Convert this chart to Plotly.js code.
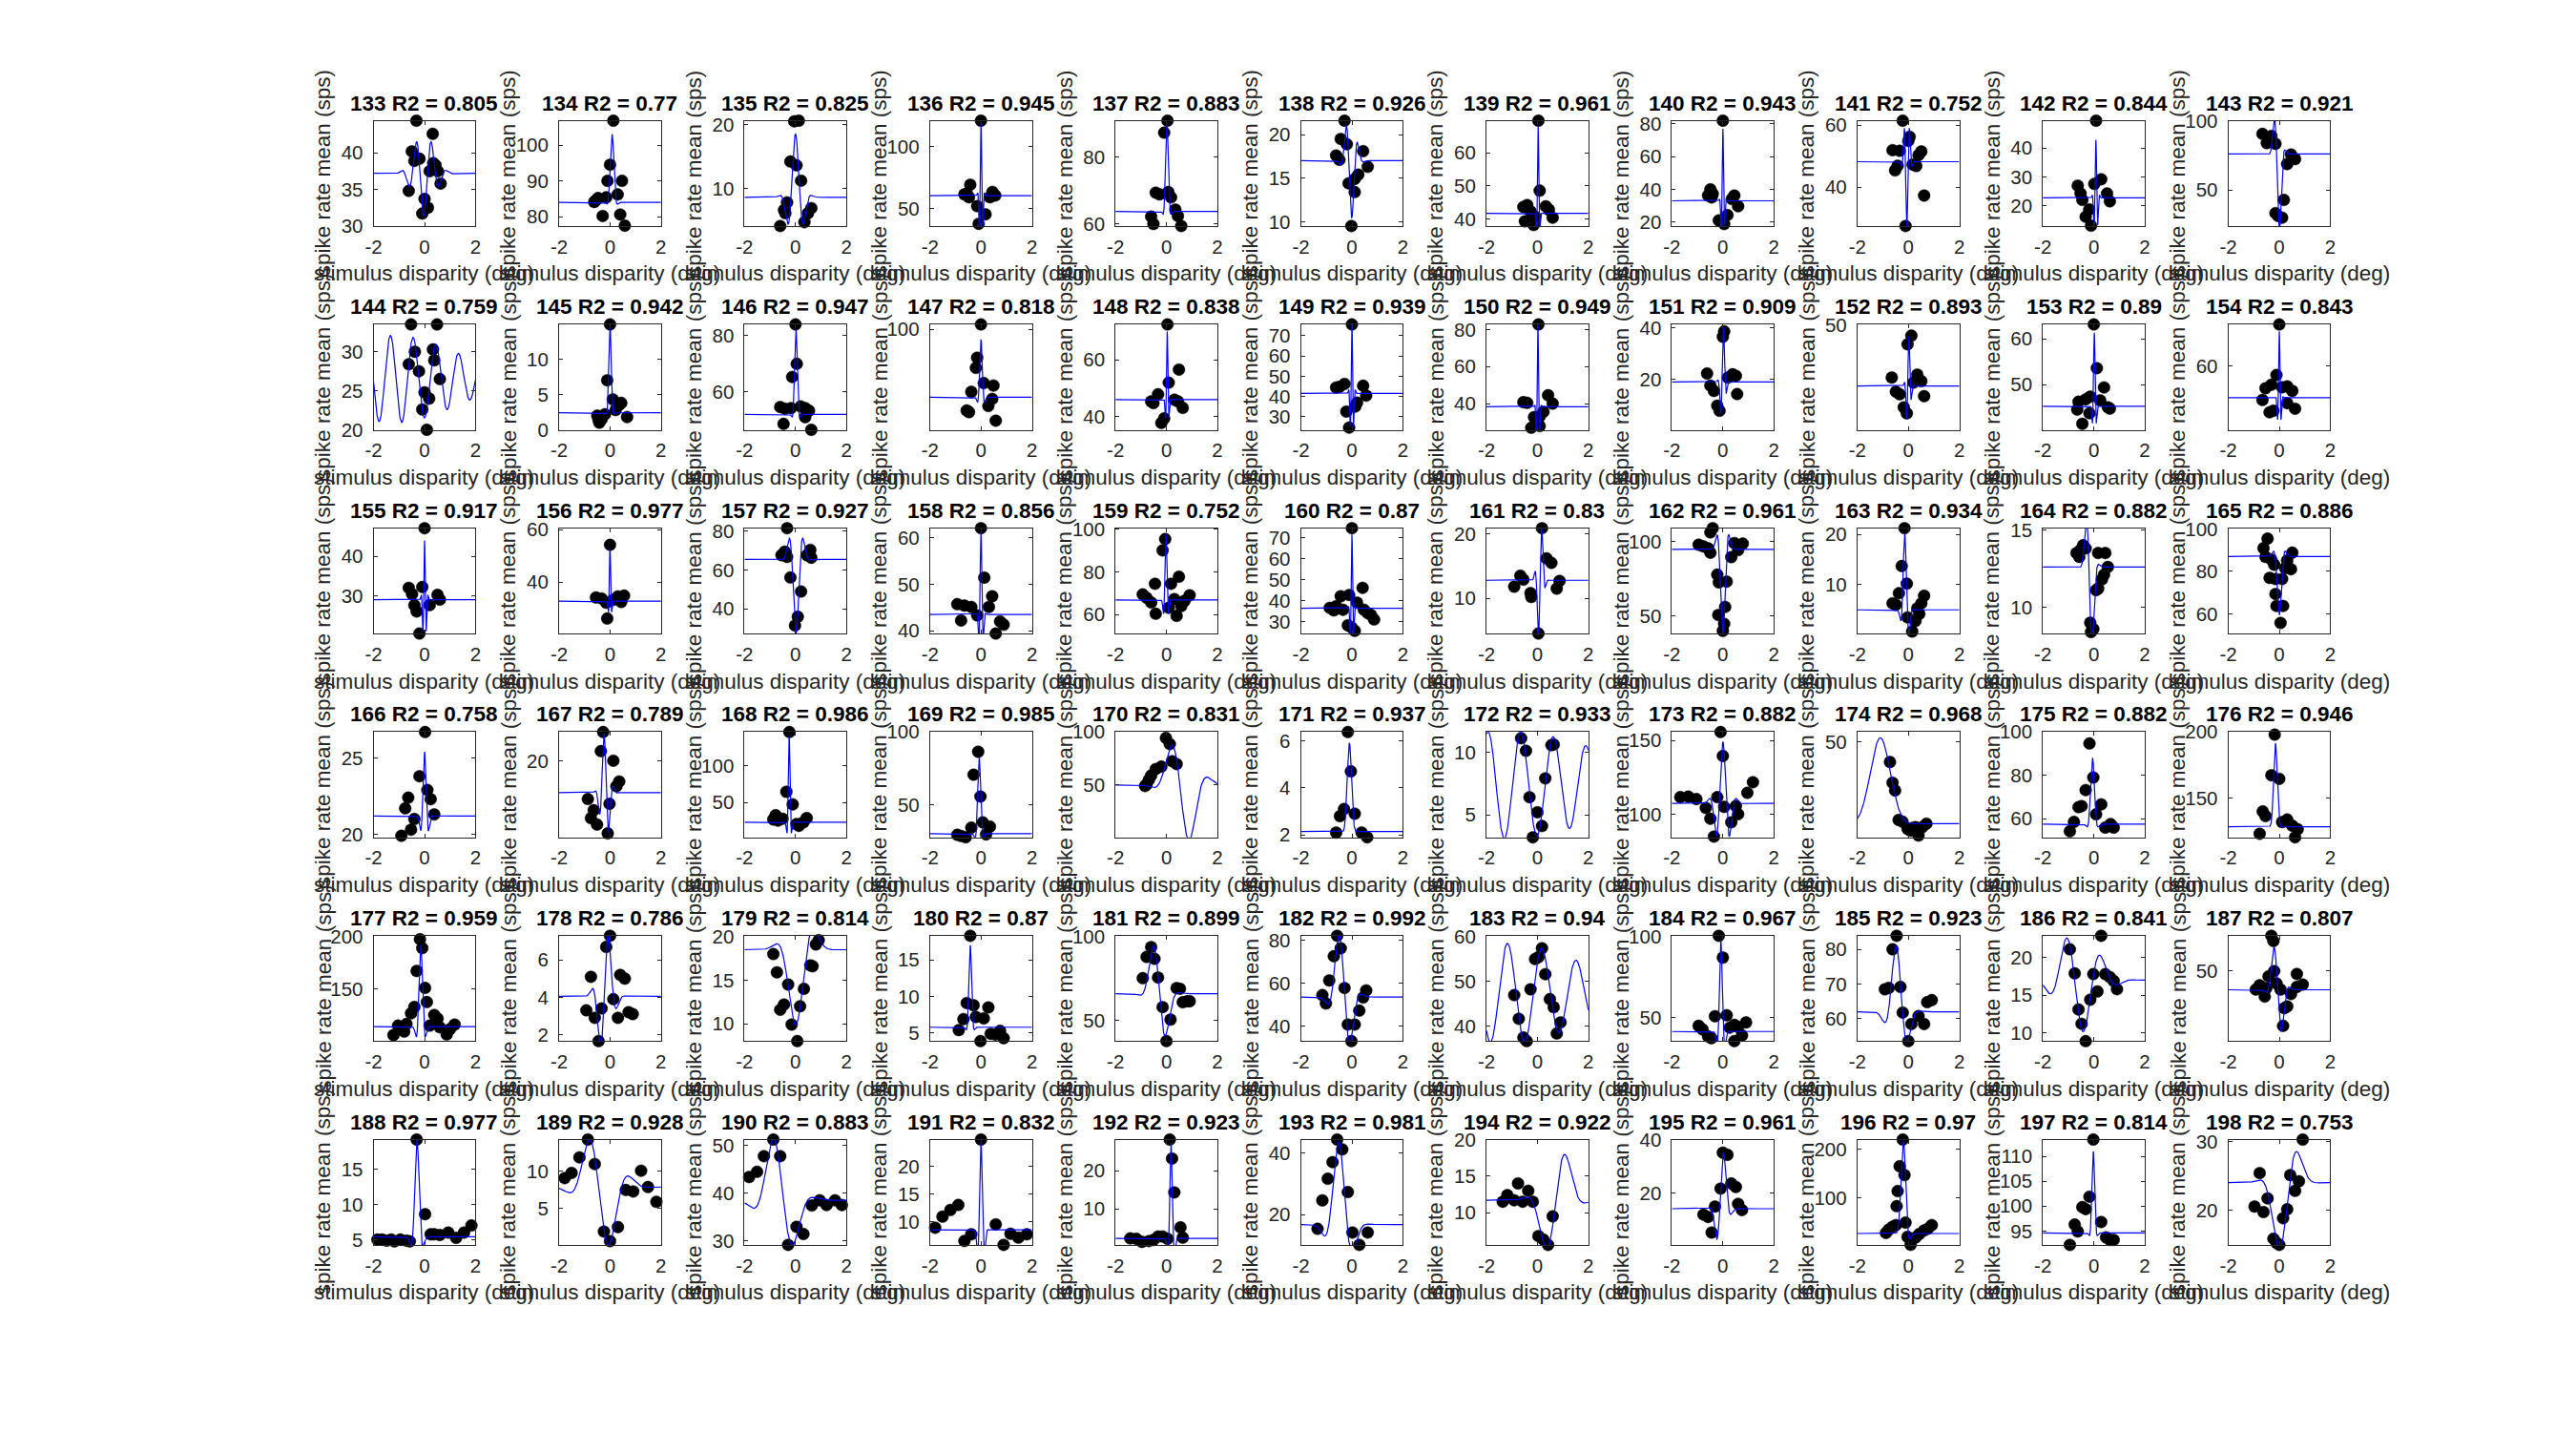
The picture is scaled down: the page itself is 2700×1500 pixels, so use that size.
<!DOCTYPE html>
<html><head><meta charset="utf-8">
<script src="https://cdn.plot.ly/plotly-3.0.1.min.js"></script>
<style>html,body{margin:0;padding:0;background:#fff}</style>
</head><body><div id="chart" style="width:2700px;height:1500px"></div>
<script>
// ---- data ----
const cellIds = [133,134,135,136,137,138,139,140,141,142,143,144,145,146,147,148,149,150,151,152,153,154,155,156,157,158,159,160,161,162,163,164,165,166,167,168,169,170,171,172,173,174,175,176,177,178,179,180,181,182,183,184,185,186,187,188,189,190,191,192,193,194,195,196,197,198];
const r2Values = [0.805,0.77,0.825,0.945,0.883,0.926,0.961,0.943,0.752,0.844,0.921,0.759,0.942,0.947,0.818,0.838,0.939,0.949,0.909,0.893,0.89,0.843,0.917,0.977,0.927,0.856,0.752,0.87,0.83,0.961,0.934,0.882,0.886,0.758,0.789,0.986,0.985,0.831,0.937,0.933,0.882,0.968,0.882,0.946,0.959,0.786,0.814,0.87,0.899,0.992,0.94,0.967,0.923,0.841,0.807,0.977,0.928,0.883,0.832,0.923,0.981,0.922,0.961,0.97,0.814,0.753];
const xTicks = [-2, 0, 2];
const xLabel = 'stimulus disparity (deg)';
const yLabel = 'spike rate mean (sps)';

// stimulus disparity (deg) of each dot, per cell
const dispX = [
[-0.32,0.32,-0.5,-0.4,-0.2,0.34,0.43,0.2,0.52,0.63,-0.62,0.0,0.13,-0.09],
[0.13,0.0,-0.1,0.47,0.3,-0.15,-0.47,-0.62,-0.29,0.4,0.58,-0.55],
[-0.05,0.13,-0.2,0.04,0.22,-0.33,-0.45,-0.4,-0.6,0.62,0.49,0.35],
[0,-0.42,-0.56,-0.65,-0.47,0.45,0.56,0.35,-0.15,0.18,-0.09],
[0.04,-0.09,-0.42,-0.27,0.07,0.18,0.35,0.45,-0.6,-0.51,0.58],
[-0.29,-0.44,-0.2,-0.62,-0.49,0.44,0.62,0.25,0.11,-0.13,0.11,-0.02],
[0.04,0.09,-0.55,-0.4,-0.27,0.33,0.45,0.6,-0.49,-0.24,-0.15,-0.09],
[0,-0.49,-0.58,-0.44,-0.4,0.45,0.35,0.6,-0.16,0.18,0.05],
[-0.22,0.05,0.0,-0.62,-0.34,0.51,0.4,0.31,-0.42,-0.52,0.17,0.62,-0.11],
[0.09,0.29,0.02,-0.63,-0.52,-0.45,0.52,0.63,-0.18,-0.32,-0.11],
[-0.66,-0.31,-0.49,-0.15,0.46,0.62,0.31,0.18,-0.15,-0.05,0.11],
[-0.53,0.49,-0.38,-0.62,0.33,0.38,-0.22,0.6,0.0,0.18,-0.09,0.09],
[0,-0.11,0.11,0.44,0.67,-0.5,-0.42,-0.33,-0.2,0.22,0.35,-0.45],
[0,0.05,-0.13,-0.6,-0.42,-0.18,0.2,0.38,0.53,-0.47,0.38,0.62],
[0,-0.15,-0.2,0.11,0.49,-0.38,0.44,0.29,-0.56,-0.47,0.58],
[0.04,0.49,0.09,-0.33,-0.6,-0.51,0.31,0.45,0.64,-0.09,-0.2],
[0,-0.29,-0.62,-0.49,0.44,0.56,0.2,-0.22,-0.11,0.13],
[0.04,-0.55,-0.4,0.42,0.6,0.24,-0.13,0.09,-0.24,0.09],
[0.05,0.0,-0.62,0.2,0.38,0.51,-0.49,-0.35,0.56,-0.22,-0.13],
[0.12,-0.03,0.35,0.51,0.2,-0.65,-0.49,-0.34,0.62,-0.18,-0.06],
[0,0.12,0.4,-0.6,-0.32,-0.14,0.25,0.55,0.63,-0.65,-0.17,-0.45],
[0,-0.11,-0.31,-0.54,0.31,0.51,0.11,-0.66,0.31,0.62,-0.38,-0.23],
[0,-0.09,-0.62,-0.49,0.51,0.6,-0.4,0.2,-0.31,-0.2],
[0,-0.55,-0.33,-0.15,0.31,0.55,0.44,0.13,-0.11],
[-0.33,-0.55,-0.42,-0.33,0.58,0.45,0.62,-0.2,0.22,0.09,-0.02],
[0,0.13,0.44,-0.93,-0.65,-0.38,-0.15,0.31,-0.78,0.75,0.89,0.58],
[-0.05,-0.15,0.49,-0.45,0.18,-0.93,-0.78,0.91,-0.6,0.31,0.71,0.09,0.58,-0.42,0.4],
[0,0.42,-0.44,-0.11,-0.87,-0.71,-0.62,-0.35,0.2,0.47,0.62,0.75,0.87,-0.16,0.11,-0.02],
[0.18,0.36,0.55,-0.67,-0.55,-0.91,0.87,0.76,-0.27,-0.24,0.04],
[-0.4,-0.49,-0.95,-0.76,-0.58,-0.49,0.45,0.78,0.6,0.33,-0.22,-0.16,0.15,0.09,-0.18,0.05,0.0],
[-0.15,-0.26,-0.06,-0.37,-0.62,-0.49,0.62,0.51,0.35,0.43,-0.03,0.28,0.15],
[-0.42,-0.52,-0.68,-0.32,-0.57,0.17,0.45,0.55,0.4,0.32,0.17,0.09,-0.14,-0.02,-0.11],
[-0.46,-0.62,-0.54,-0.31,-0.2,0.51,0.31,0.23,0.46,-0.38,-0.15,0.11,-0.15,-0.11,0.15,0.05],
[0.02,-0.2,0.11,-0.64,-0.76,0.24,0.38,-0.4,-0.53,-0.91],
[-0.27,-0.36,0.13,0.36,0.25,-0.87,-0.64,-0.75,-0.51,-0.02,-0.09],
[-0.24,-0.36,-0.11,-0.78,-0.87,-0.69,-0.51,0.13,0.31,0.44,0.04],
[-0.11,-0.29,-0.02,0.07,0.35,-0.38,0.2,-0.93,-0.78,-0.6],
[-0.02,0.13,0.22,0.4,-0.2,-0.42,-0.6,-0.69,-0.84,-0.78],
[-0.16,-0.04,-0.31,-0.47,0.11,-0.62,0.38,0.6],
[-0.64,-0.45,0.64,0.55,0.31,-0.31,0.0,0.18,-0.18],
[-0.09,0.0,1.18,0.96,-0.22,-1.67,-1.36,-1.04,-0.67,0.05,0.51,0.6,-0.49,0.33,-0.35],
[-0.72,-0.62,-0.52,-0.38,-0.23,-0.03,0.09,0.28,0.4,0.55,0.71,0.15],
[-0.17,-0.02,-0.32,0.29,-0.6,-0.48,0.09,-0.78,0.45,0.66,0.78,-0.94],
[-0.18,-0.31,0,-0.65,-0.54,0.11,0.31,0.51,0.72,-0.77,0.62],
[-0.18,-0.09,-0.31,0.02,0.09,-0.4,-0.53,0.38,0.51,-0.71,0.2,0.6,-1.04,-0.8,1.18,1.0,0.87,-1.22],
[0,-0.15,-0.75,0.4,0.58,0.13,-0.93,-0.33,-0.6,0.31,0.73,0.89,-0.45],
[0.91,0.8,-0.87,-0.73,-0.29,0.58,0.67,0.33,0.18,-0.45,-0.6,-0.15,0.07],
[-0.42,-0.56,-0.29,0.29,-0.69,-0.2,0.11,-0.87,0.38,0.56,0.75,0.89,-0.02],
[-0.6,-0.78,-0.47,-0.93,-0.33,0.4,0.53,-0.15,0.16,0.64,0.82,0.91,0.0],
[-0.58,-0.44,-0.71,-0.89,-1.16,-1.02,-0.29,0.56,0.44,0.29,-0.16,0.11,-0.02],
[0.18,-0.09,0.04,0.31,-0.91,-0.27,0.49,0.64,-0.73,0.91,0.76,-0.55,-0.42],
[-0.16,0,-0.31,0.15,-0.95,-0.8,-0.58,-0.45,0.45,0.6,0.91,0.27,0.75,0.45],
[-0.46,-0.62,-0.92,-0.77,-0.31,-0.22,0.12,0.4,0.62,0.74,0.92,0],
[0.29,-0.94,-0.75,0.45,0.63,0.78,-0.02,0.91,0.14,-0.14,-0.6,-0.48,-0.32],
[-0.31,-0.23,-0.2,-0.42,0.69,-0.77,-0.11,0.92,0.69,-0.92,-0.51,0.46,0.05,-0.57,0.31,0.2,0.15],
[-0.31,0.02,-1.85,-1.67,-1.49,-1.31,-1.18,-0.95,-0.71,-0.58,0.24,0.38,0.6,0.93,1.24,1.55,1.84],
[-0.87,-1.2,-0.6,-1.51,-1.78,1.22,0.62,0.91,1.49,1.82,-0.24,0.31,0.0],
[-0.87,-0.6,-1.24,-1.51,-1.82,0.04,0.31,-0.29,0.64,0.95,1.22,1.55,1.82],
[0,-0.89,-1.2,-1.51,-1.8,0.58,-0.65,-0.38,0.89,1.16,1.47,1.8],
[0.13,0.22,0.31,0.55,0.64,-1.42,-1.18,-0.96,-0.69,-0.51,-0.33,-0.15,0.04],
[-0.58,-0.38,-0.76,-0.95,-1.16,-0.16,-1.35,0.02,0.29,0.62],
[-0.76,-1.18,-1.36,-0.91,-0.58,-0.36,-0.18,0.04,0.24,0.42,0.6],
[0,0.18,0.33,-0.09,0.51,0.6,0.75,-0.31,-0.76,-0.58,-0.44],
[-0.22,-0.34,-0.15,-0.42,-0.46,-0.11,-0.49,-0.62,-0.77,-0.88,0.92,0.77,0.62,0.43,0.28,-0.03,0.09],
[-0.02,-0.17,-0.45,-0.32,-0.75,-0.63,0.29,0.48,0.63,0.78,-0.94],
[0.92,-0.77,0.43,0.77,0.62,-0.46,-0.97,-0.62,0.31,0.15,-0.23,-0.11,0.0]
];

// spike rate mean (sps) of each dot, per cell
const rateY = [
[44.4,42.6,40.2,38.9,39.2,38.6,38.3,37.5,37.5,35.8,34.8,33.7,32.5,31.7],
[106.8,94.5,90,90,86.2,85.4,85.2,84.1,80.2,80.6,77.5,84.6],
[20.5,20.6,14.2,13.6,11.2,7.8,6.6,6.1,4.1,6.9,6.1,4.7],
[121,69.3,62.1,61.5,59.2,63.5,60.6,59.2,52,45.4,37.7],
[91,87.4,69.4,68.9,69.6,68,64.3,62.4,62.2,60,59.4],
[21.6,19.5,18.9,17.6,17.1,18.1,16.3,15.4,14.9,14.4,13.4,9.5],
[69.6,48.6,43.7,44.3,42.4,43.9,42.9,40.5,39.4,39.2,38.3,40.8],
[82,40,36.2,35.1,37.3,36.2,34.1,29.7,21,24.3,18.8],
[61.4,56.2,54.9,51.9,51.7,51.5,50.3,46.8,46.9,45.4,47.3,37.3,27.5],
[49.4,29.2,27.6,27,24.3,22.1,24.3,21.6,18.8,16.3,13.2],
[90.5,89,83.8,83.3,75.6,72.3,68.7,42.8,33.3,31.3,30],
[33.5,33.5,30,28.4,30.3,28.9,27.5,26.5,24.8,24.0,22.6,20],
[14.9,7.0,4.3,3.8,1.8,2.0,1.0,1.5,2.2,2.8,3.5,1.4],
[84,70,65.3,54.6,54,54.2,54.8,54.2,53.3,48.6,51,46.5],
[102.4,86,81,73.5,72.3,69.2,65.7,62.2,60,59.2,55],
[72.5,56.6,52,47.9,45.4,44.8,46,45.4,43.1,39.4,37.8],
[75.6,46.2,44.4,44.7,45.3,40.4,36.9,32.5,24.6,35],
[82.7,40.8,40.4,44.5,40,35.6,32.7,33.1,27,27.9],
[38.7,36.6,22.3,20.7,22,21.4,17.6,15.5,14.3,9.8,7.8],
[45,40.9,26.6,23.5,22.8,25.2,18.5,17.3,16.4,11.1,8.3],
[63.1,53.6,49.4,46.3,46.8,47.4,46.6,45.1,44.8,44.6,43.8,41.5],
[72.8,57.2,54.2,53.1,53.7,52.3,53.4,49.5,48.5,46.8,45.7,46.2],
[47.1,32.2,32,30.4,30.2,29,27.6,27.6,26,20.4],
[54.2,34.2,33.8,32.2,34.6,34.9,32.5,33.3,26.2],
[81.3,67.5,69.3,66.6,70.2,67.5,66.2,56.1,48.9,36,31.5],
[62,51.4,47.4,45.7,45.4,45.1,43.3,45.1,42.2,42,41.3,39.4],
[95.4,90.1,77.7,74.4,74.4,69.4,67.8,69,65.6,67.2,66.4,63.1,63.9,60.3,59.3],
[74.5,46.2,42.2,42.8,36.7,35.5,37.5,35.8,39.2,35.8,34.2,33.3,31.2,28.4,25.8,27.5],
[20.9,16.2,15.5,13.5,12.9,11.8,12.7,11.5,10.8,10.2,4.5],
[108.7,105.9,97.7,96.5,95.3,92.3,98.8,98.4,94.1,89.4,77.7,72.5,73,56.1,50.7,44.8,40.1],
[21.2,13.7,10.2,8.3,6.3,6.0,7.8,6.3,5.3,4.2,3.5,2.8,0.7],
[14,13.7,13.5,13.8,13.25,13.5,13.5,12.6,12.1,11.8,11.2,11.1,9,8.6,8.4],
[95.4,90.9,86.8,85.5,83.1,88.8,85.1,81.5,81,76.9,76.4,76.4,69.3,63.7,63.7,55.7],
[26.7,23.8,22.9,22.4,21.7,22.3,21.3,21,20.3,19.9],
[21.8,20.6,20,18.7,18.4,17.6,16.9,16.4,16,17.3,15.45],
[145.6,64.6,47.6,33,27.2,25.7,28.2,18.5,23.3,29.1,20.9],
[86.5,70.8,55.9,38.2,35.3,34.6,30,29.7,28.9,28],
[94.3,88.6,72.4,69.7,67.3,65,58.9,54.9,49,50.5],
[6.37,4.7,3.1,2.8,2.9,2.1,2.1,1.9],
[11.1,10.1,10.6,10.55,7.9,6.4,5.2,4.1,3.2],
[155.8,139.6,121.8,114.6,111.7,111.7,112.1,110.4,104.4,105.1,105.6,100.2,97.1,94.7,85],
[39.6,29,25,9.9,9,5.3,4.4,6.2,1.9,6.2,8,5.8],
[94.7,79,73.2,66.6,65.3,65.8,62,58.5,55.9,57.5,55.9,54.2],
[198,167.4,164.7,140.1,136.6,132.1,134,129.4,126.7,123.3,120.6],
[197.4,189,167.3,151.2,137.8,133.1,127.1,125.5,122.1,117,115.4,113.8,115.4,109.7,116.4,112.1,107,106.4],
[7.3,6.7,5.1,5.2,5.0,3.9,3.3,3.4,2.9,2.9,3.2,3.1,1.65],
[19.6,19.1,18,15.9,14.5,16.7,16.6,14,12,12.2,11.6,9.9,8],
[18.3,9.1,8.8,8.5,6.9,7.2,7.0,5.4,4.9,4.8,5.3,4.3,3.9],
[93.7,87.8,86.7,75.2,75.6,69.3,68.9,58,50.6,60.9,61.5,61.5,37.8],
[82,76.2,72.5,61.2,54.4,50.5,57.7,56.6,53.3,47.2,40.7,40.7,33],
[57.4,55,55.4,51.6,46.9,48.2,46,44.2,41.6,40.8,38.3,37.4,36.6],
[100.4,87,50.9,51.5,45,42.8,38.5,37.4,45.6,44.3,47.1,43.9,39.1,35.6],
[83.9,80,68.5,68.9,69.2,61.8,58.5,60.8,58.5,64.8,65.4,53.6],
[22.9,21.1,17.9,17.8,17.4,16.9,17.8,15.8,15.5,14.4,13.1,11.2,8.9],
[75,71.3,50,46.3,48,40,41.3,40.5,38.8,37,38,33.8,37,32,25,23.8,11.3],
[19.2,8.6,5,5,4.85,5,4.75,5,4.85,4.75,5.75,5.75,5.65,6,5.25,6,7],
[14.3,11.9,11,9.8,9.1,10.1,7.5,7.3,7.9,5.9,1.9,2.5,0.6],
[51.3,47.8,47.8,44.5,43.4,32.9,31.4,29.1,37.4,38.5,37.5,38.5,37.5],
[24.8,13,12.1,10.9,8.9,9.5,6.5,7.7,5.8,7.8,7.1,7.7],
[28.2,23.2,14.3,5.1,2.4,2.2,2.1,1.3,1.5,1.8,2.7,2.7,2.1],
[44.3,41.1,37,31.6,24.6,27.3,15.4,14.2,10.2,14.2],
[14,12.4,11.5,11.7,11.5,13,11.5,6.8,6.3,5.6,9.5],
[35.1,34.3,23.6,21.7,22.3,16,13.7,15,12,11.1,5.3],
[219.8,165,146.9,113.9,83.1,49.4,44.3,40.7,34.8,28.2,44.3,37,33.3,26,18.7,20.1,4],
[113.4,101.9,99.8,99.4,96.3,94.9,96.8,93.7,93.2,93.2,92.2],
[30.3,25.4,25.1,24.2,22.8,21.7,20.5,19.7,20.1,18.8,15.8,15.2,14.9]
];

// y-axis limits and tick values of each panel
const yLow  = [30,77.4,4.1,36,59.4,9.5,38,17.6,27.5,13.1,24,20,0,46.5,50.5,35.4,23.5,25.9,0.4,0.5,40.2,40.3,20.4,20.5,27.4,39.4,51,24.5,4.5,38.3,0.3,8.3,50.7,19.8,15.2,3,28,0.5,1.9,3.2,84.5,1,51.4,120.6,100.7,1.65,8,3.9,37.8,33,36.6,35.6,53.6,8.9,0.5,4.25,0.1,29.1,5.8,0.5,10.2,5.6,0.7,3.7,92.2,14.9];
const yHigh = [44.4,106.8,20.6,121,91,21.6,69.6,82,61.4,49.4,100,33.5,14.9,84,102.4,72.5,75.6,82.7,41.4,50.3,63.1,72.8,47.1,60.5,81.3,62,100.5,74.5,20.9,108.7,21.2,15.1,100.3,26.7,21.8,145.6,100,100,6.37,11.6,155.8,55,100,200,200.7,7.3,20.1,18.3,100.4,82,60.2,100.4,83.9,22.9,75,19.2,14.3,51.3,24.8,28.2,44.3,20,40,219.8,113.4,30.3];
const yTicks = [
[30,35,40],[80,90,100],[10,20],[50,100],[60,80],[10,15,20],[40,50,60],[20,40,60,80],[40,60],[20,30,40],[50,100],
[20,25,30],[0,5,10],[60,80],[50,100],[40,60],[30,40,50,60,70],[40,60,80],[0,20,40],[0,50],[40,50,60],[40,60],
[20,30,40],[20,40,60],[40,60,80],[40,50,60],[60,80,100],[30,40,50,60,70],[10,20],[50,100],[0,10,20],[10,15],[60,80,100],
[20,25],[15,20],[0,50,100],[50,100],[0,50,100],[2,4,6],[5,10],[100,150],[0,50],[60,80,100],[150,200],
[100,150,200],[2,4,6],[10,15,20],[5,10,15],[50,100],[40,60,80],[40,50,60],[50,100],[60,70,80],[10,15,20],[0,50],
[5,10,15],[0,5,10],[30,40,50],[10,15,20],[0,10,20],[20,40],[10,15,20],[0,20,40],[0,100,200],[95,100,105,110],[20,30]
];

// Gabor fit parameters (baseline, amplitude, centre, width, frequency, phase) estimated per panel
const fitBase  = [37.2,84,8.6,60.5,63.8,17,41.8,33,48.2,22.8,76,26.5,2.4,52,66.5,46,41.5,38.3,19,21.2,45.3,50.2,29,32.8,65.3,43.5,66.8,36.5,12.8,94.5,5,12.6,87,21.2,18,23.5,30.5,50,2.15,7.4,107.5,8,57.5,128.5,114.5,4.05,18.5,5.8,66,53.5,47.3,41.5,62,17,36.8,5.4,7.9,38.5,8.5,2.2,16.8,11.7,14.2,27,94.6,24];
const fitAmp   = [5.8,19,9.9,60,26.5,6.8,26,44,21,20,65,5.6,12.3,30,28.5,24,34,44,22.5,25,16,20.5,15,20,38,17.5,31,35,10.8,56,15.6,6.1,27.5,4.2,3.85,117,52,60,3.75,4.3,41.5,44,30.5,63,77,3.8,9,11.2,40,35,11.2,56,20,7.1,41,13.8,9,15,16,25,27.5,9,23,215,16.4,11.4];
const fitMu    = [-0.03,0.08,0,0,0.02,-0.05,0.03,0,-0.06,0.08,-0.05,-1.2,0,0.02,0,0.03,0,0.02,0,0,0.02,0,0,0,0.02,0,-0.02,0,0.1,0,-0.12,-0.15,0,0,-0.2,-0.25,-0.07,0.65,-0.1,-1.3,0,-1.1,-0.05,-0.15,-0.15,-0.2,0.1,-0.42,-0.3,-0.35,-1.2,-0.08,-0.4,-0.6,-0.07,-0.3,-0.35,-0.6,0,0.18,-0.45,0.7,-0.05,-0.16,-0.02,0.2];
const fitSigma = [0.38,0.09,0.245,0.054,0.07,0.18,0.04,0.05,0.09,0.06,0.12,2.46,0.06,0.07,0.07,0.045,0.055,0.047,0.08,0.07,0.05,0.05,0.06,0.04,0.185,0.06,0.06,0.05,0.1,0.14,0.1,0.14,0.12,0.1,0.15,0.05,0.08,0.5,0.1,4,0.24,0.45,0.1,0.08,0.1,0.25,0.42,0.07,0.3,0.3,3,0.09,0.3,0.7,0.2,0.12,0.6,0.55,0.09,0.08,0.35,0.5,0.18,0.11,0.07,0.42];
const fitFreq  = [1.67,1.5,1.43,6.7,2,2,6,6.5,4.5,6.25,1.8,1.12,2,2,2.5,6,7,7,3.85,5,5,6,7,6,1.5,5,4,6.5,3.3,1.6,2.5,1.56,1.5,2.5,2.6,4,2,0.59,1,0.78,1.75,0.2,1.5,1,2,1.39,0.5,2,0.77,0.94,0.74,2.5,0.9,0.71,1.35,1.5,0.556,0.53,3,3,0.7,0.53,1.43,1.0,2,0.5];
const fitPhase = [3.1416,0,0,0,0,2.51,0,0,3.1416,0,2.24,1.0,0,0,0,0,0,0,-0.726,-0.8,0,0,0,0,3.1416,0,0,0,-1.69,3.1416,0.471,1.966,3.1416,0,0.69,0,0,2.03,0,3.1416,0,0,0,0,0,-1.31,3.61,0,1.45,1.19,-0.11,0,0.6,2.25,1.53,0,1.92,1.14,0,0,0.44,-1.64,-0.9,0.6,0,4.08];

// ---- drawing ----
const W = 2700, H = 1500;
const L0 = 391.6, DX = 194.4, PW = 106.8;
const T0 = 126.5, DY = 213.6, PH = 110.4;
const FONT = 'Liberation Sans, Arial, Helvetica, sans-serif';
const INK = '#262626';

const gridX = [];
for (let k = 0; k <= 800; k++) gridX.push(-2 + k * 0.005);

const data = [];
const layout = {
  width: W, height: H, margin: {l: 0, r: 0, t: 0, b: 0},
  paper_bgcolor: '#ffffff', plot_bgcolor: '#ffffff', showlegend: false,
  font: {family: FONT, color: INK}, annotations: []
};
const axisStyle = {
  showline: true, linecolor: INK, linewidth: 1, mirror: 'ticks',
  ticks: 'inside', ticklen: 4, tickwidth: 1, tickcolor: INK,
  showgrid: false, zeroline: false, fixedrange: true,
  tickfont: {family: FONT, size: 20.5, color: INK}
};

cellIds.forEach((id, i) => {
  const r = Math.floor(i / 11), c = i % 11;
  const left = L0 + DX * c, top = T0 + DY * r;
  const s = i === 0 ? '' : String(i + 1);
  layout['xaxis' + s] = Object.assign({}, axisStyle, {
    domain: [left / W, (left + PW) / W], anchor: 'y' + s, range: [-2, 2],
    tickmode: 'array', tickvals: xTicks, ticktext: xTicks.map(String), ticklabelstandoff: 3
  });
  layout['yaxis' + s] = Object.assign({}, axisStyle, {
    domain: [1 - (top + PH) / H, 1 - top / H], anchor: 'x' + s,
    range: [yLow[i], yHigh[i]], tickmode: 'array', tickvals: yTicks[i],
    ticktext: yTicks[i].map(String), ticklabelstandoff: 6
  });
  data.push({
    type: 'scatter', mode: 'markers', x: dispX[i], y: rateY[i],
    xaxis: 'x' + s, yaxis: 'y' + s, cliponaxis: false, hoverinfo: 'skip',
    marker: {color: '#000000', size: 12.5, line: {width: 0.5, color: '#000000'}}
  });
  const fy = gridX.map(x => {
    const d = x - fitMu[i];
    return fitBase[i] + fitAmp[i] * Math.exp(-d * d / (2 * fitSigma[i] * fitSigma[i])) *
      Math.cos(2 * Math.PI * fitFreq[i] * d + fitPhase[i]);
  });
  data.push({
    type: 'scatter', mode: 'lines', x: gridX, y: fy,
    xaxis: 'x' + s, yaxis: 'y' + s, hoverinfo: 'skip',
    line: {color: '#0000ff', width: 1.2}
  });
  layout.annotations.push({
    text: '<b>' + id + ' R2 = ' + r2Values[i] + '</b>', showarrow: false,
    xref: 'paper', yref: 'paper', x: (left + PW / 2) / W, y: 1 - (top - 4) / H,
    xanchor: 'center', yanchor: 'bottom', font: {family: FONT, size: 22.5, color: '#000000'}
  });
  layout.annotations.push({
    text: xLabel, showarrow: false, xref: 'paper', yref: 'paper',
    x: (left + PW / 2) / W, y: 1 - (top + PH + 50) / H,
    xanchor: 'center', yanchor: 'middle', font: {family: FONT, size: 22.5, color: INK}
  });
  layout.annotations.push({
    text: yLabel, showarrow: false, textangle: -90, xref: 'paper', yref: 'paper',
    x: (left - 53) / W, y: 1 - (top + PH / 2) / H,
    xanchor: 'center', yanchor: 'middle', font: {family: FONT, size: 22.5, color: INK}
  });
});

Plotly.newPlot('chart', data, layout, {staticPlot: true, displayModeBar: false});
</script>
</body></html>
